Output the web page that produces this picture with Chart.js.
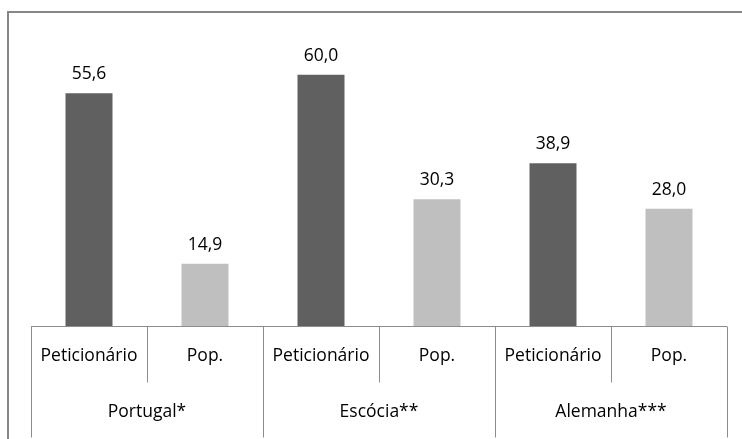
<!DOCTYPE html>
<html>
<head>
<meta charset="utf-8">
<script src="https://cdn.jsdelivr.net/npm/chart.js@4"></script>
<style>
  html, body { margin: 0; padding: 0; background: #fff; }
  #wrap { width: 742px; height: 439px; }
</style>
</head>
<body>
<div id="wrap"><canvas id="myChart" width="742" height="439"></canvas></div>
<script>
const countries = ["Portugal*", "Escócia**", "Alemanha***"];
const groups = ["Peticionário", "Pop."];
const peticionario = [55.6, 60.0, 38.9];
const pop = [14.9, 30.3, 28.0];

const labels = [];
const values = [];
const colors = [];
countries.forEach((c, i) => {
  labels.push(groups[0], groups[1]);
  values.push(peticionario[i], pop[i]);
  colors.push("#606060", "#bfbfbf");
});

const FONT = "17.5px 'Open Sans', sans-serif";

const decor = {
  id: "decor",
  beforeDraw(chart) {
    const ctx = chart.ctx;
    ctx.save();
    ctx.strokeStyle = "#868686";
    ctx.lineWidth = 2;
    ctx.strokeRect(8, 12, 800, 500);
    ctx.restore();
  },
  afterDraw(chart) {
    const ctx = chart.ctx;
    const x = chart.scales.x;
    const area = chart.chartArea;
    const half = (x.getPixelForValue(1) - x.getPixelForValue(0)) / 2;
    const base = Math.round(area.bottom) + 0.5;
    ctx.save();
    ctx.strokeStyle = "#8c8c8c";
    ctx.lineWidth = 1;
    ctx.beginPath();
    ctx.moveTo(area.left, base);
    ctx.lineTo(area.right, base);
    // separators
    for (let i = 0; i <= labels.length; i++) {
      const px = Math.round(x.getPixelForValue(i) - half) + 0.5;
      ctx.moveTo(px, base);
      ctx.lineTo(px, i % 2 === 0 ? base + 111 : base + 56);
    }
    ctx.stroke();

    ctx.fillStyle = "#000";
    ctx.font = FONT;
    ctx.textAlign = "center";
    ctx.textBaseline = "middle";
    labels.forEach((l, i) => {
      ctx.fillText(l, x.getPixelForValue(i), base + 30);
    });
    countries.forEach((c, i) => {
      const px = (x.getPixelForValue(2 * i) + x.getPixelForValue(2 * i + 1)) / 2;
      ctx.fillText(c, px, base + 86);
    });

    // value labels
    const meta = chart.getDatasetMeta(0);
    ctx.textBaseline = "alphabetic";
    meta.data.forEach((bar, i) => {
      ctx.fillText(values[i].toFixed(1).replace(".", ","), bar.x, bar.y - 14);
    });
    ctx.restore();
  },
};

const ctx = document.getElementById("myChart").getContext("2d");
const myChart = new Chart(ctx, {
  type: "bar",
  data: {
    labels: labels,
    datasets: [
      {
        data: values,
        backgroundColor: colors,
        borderWidth: 0,
        barPercentage: 0.405,
        categoryPercentage: 1,
      },
    ],
  },
  options: {
    responsive: false,
    animation: false,
    layout: {
      padding: { left: 31, right: 15, top: 33, bottom: 113 },
    },
    plugins: {
      legend: { display: false },
      tooltip: { enabled: false },
    },
    scales: {
      x: { display: false },
      y: { display: false, min: 0, max: 70 },
    },
  },
  plugins: [decor],
});
</script>
</body>
</html>
